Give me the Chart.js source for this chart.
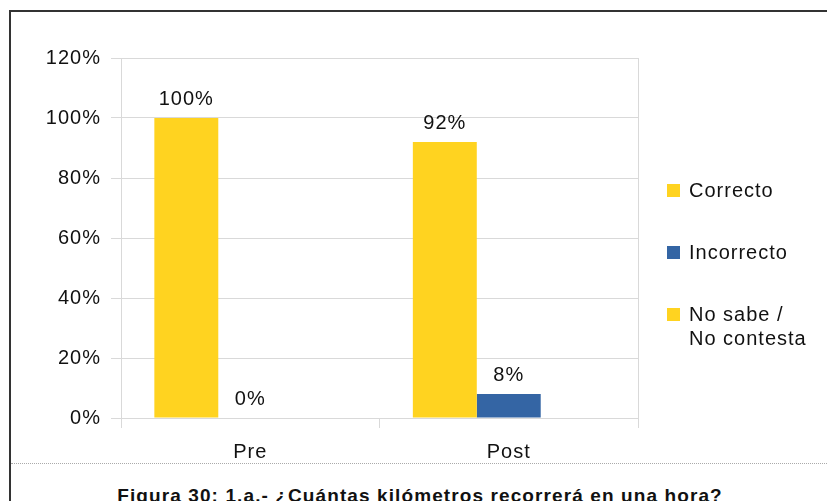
<!DOCTYPE html>
<html>
<head>
<meta charset="utf-8">
<script src="https://cdn.jsdelivr.net/npm/chart.js@4.4.1/dist/chart.umd.min.js"></script>
<style>
  html, body { margin: 0; padding: 0; background: #fff; }
  body { width: 827px; height: 501px; position: relative; overflow: hidden; font-family: "Liberation Sans", Arial, sans-serif; }
  #marco { position: absolute; left: 9px; top: 10px; width: 830px; height: 500px; border-left: 2px solid #333; border-top: 2px solid #333; }
  #punteado { position: absolute; left: 11px; top: 463px; width: 820px; border-top: 1px dotted #aaa; }
  #wrap { position: absolute; left: 0; top: 0; width: 827px; height: 463px; }
  #titulo { position: absolute; left: 0; width: 840px; top: 485px; text-align: center; font-weight: bold; font-size: 19px; letter-spacing: 1.1px; color: #111; white-space: nowrap; }
</style>
</head>
<body>
<div id="marco"></div>
<div id="punteado"></div>
<div id="wrap"><canvas id="grafico"></canvas></div>
<div id="titulo">Figura 30: 1.a.- ¿Cuántas kilómetros recorrerá en una hora?</div>
<script>
// datos
const categorias = ["Pre", "Post"];
const correcto = [100, 92];
const incorrecto = [0, 8];
const noSabe = [null, null];
const etiquetasSerie = ["Correcto", "Incorrecto", ["No sabe /", "No contesta"]];
const coloresSerie = ["#ffd320", "#3465a4", "#ffd320"];
const mostrarValores = [true, true, false];

const fuente = "Liberation Sans, Arial, sans-serif";
const tam = 20;
const gris = "#d9d9d9";
const espaciado = "1px";

// el texto de la figura va algo espaciado
const pluginEspaciado = {
  id: "espaciado",
  beforeDraw(chart) {
    chart.ctx.letterSpacing = espaciado;
  },
};

// valores encima de las barras
const pluginValores = {
  id: "valores",
  afterDatasetsDraw(chart) {
    const ctx = chart.ctx;
    ctx.save();
    ctx.letterSpacing = espaciado;
    ctx.font = tam + "px " + fuente;
    ctx.fillStyle = "#111";
    ctx.textAlign = "center";
    ctx.textBaseline = "middle";
    chart.data.datasets.forEach((ds, i) => {
      if (!mostrarValores[i]) return;
      chart.getDatasetMeta(i).data.forEach((bar, j) => {
        const v = ds.data[j];
        if (v == null) return;
        ctx.fillText(v + "%", bar.x, bar.y - 19);
      });
    });
    ctx.restore();
  },
};

// leyenda a la derecha
const pluginLeyenda = {
  id: "leyendaDerecha",
  afterDraw(chart) {
    const ctx = chart.ctx;
    const x0 = chart.chartArea.right + 29;
    let y = 191;
    ctx.save();
    ctx.letterSpacing = espaciado;
    ctx.font = tam + "px " + fuente;
    ctx.textBaseline = "middle";
    chart.data.datasets.forEach((ds, i) => {
      ctx.fillStyle = ds.backgroundColor;
      ctx.fillRect(x0, y - 7, 13, 13);
      ctx.fillStyle = "#111";
      const lineas = [].concat(etiquetasSerie[i]);
      lineas.forEach((t, k) => ctx.fillText(t, x0 + 22, y + k * 24));
      y += 62;
    });
    ctx.restore();
  },
};

new Chart(document.getElementById("grafico").getContext("2d"), {
  type: "bar",
  data: {
    labels: categorias,
    datasets: [
      { label: "Correcto", data: correcto, backgroundColor: coloresSerie[0] },
      { label: "Incorrecto", data: incorrecto, backgroundColor: coloresSerie[1] },
      { label: "No sabe / No contesta", data: noSabe, backgroundColor: coloresSerie[2] },
    ],
  },
  options: {
    responsive: true,
    maintainAspectRatio: false,
    animation: false,
    layout: { padding: { left: 0, top: 58, right: 189, bottom: 0 } },
    plugins: { legend: { display: false }, tooltip: { enabled: false } },
    datasets: { bar: { barPercentage: 1, categoryPercentage: 0.742 } },
    scales: {
      x: {
        offset: true,
        grid: {
          offset: true,
          color: (c) => (c.index === 1 ? "transparent" : gris),
          tickColor: gris,
          tickLength: 10,
        },
        border: { display: false },
        ticks: { color: "#111", font: { family: fuente, size: tam }, padding: 12 },
        afterFit: (s) => { s.height = 45; },
      },
      y: {
        min: 0,
        max: 120,
        grid: { color: gris, tickColor: gris, tickLength: 10 },
        border: { display: true, color: gris },
        ticks: {
          stepSize: 20,
          color: "#111",
          font: { family: fuente, size: tam },
          padding: 10,
          callback: (v) => v + "%",
        },
        afterFit: (s) => { s.width = 121; },
      },
    },
  },
  plugins: [pluginEspaciado, pluginValores, pluginLeyenda],
});
</script>
</body>
</html>
